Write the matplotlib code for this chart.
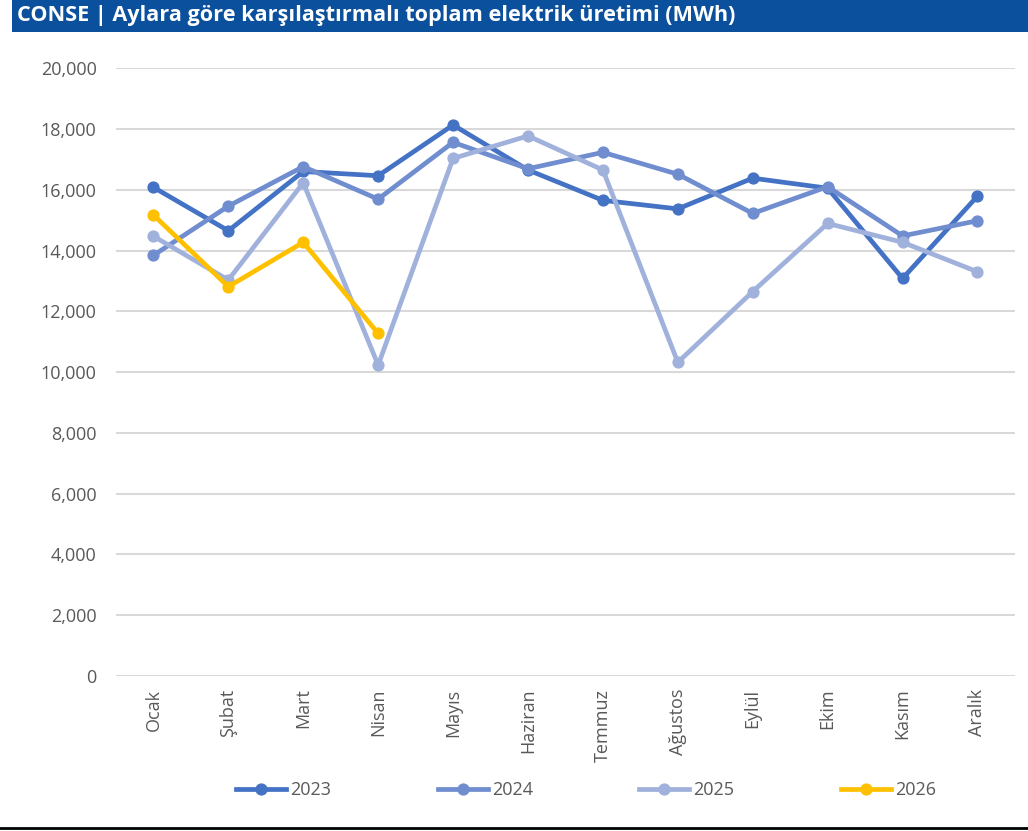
import matplotlib
matplotlib.use("Agg")
import matplotlib.pyplot as plt
from matplotlib.ticker import FuncFormatter
from matplotlib.patches import Rectangle
from matplotlib.lines import Line2D

months = ["Ocak", "Şubat", "Mart", "Nisan", "Mayıs", "Haziran", "Temmuz",
          "Ağustos", "Eylül", "Ekim", "Kasım", "Aralık"]
y2023 = [16080, 14650, 16600, 16460, 18130, 16650, 15650, 15370, 16380, 16050, 13080, 15790]
y2024 = [13840, 15460, 16760, 15690, 17560, 16690, 17230, 16510, 15220, 16100, 14480, 14980]
y2025 = [14470, 13030, 16230, 10230, 17030, 17770, 16650, 10320, 12650, 14890, 14270, 13300]
y2026 = [15170, 12810, 14270, 11270]
series = [("2023", y2023, "#4472C4"), ("2024", y2024, "#6F8DCF"),
          ("2025", y2025, "#A0B1DC"), ("2026", y2026, "#FFC000")]
title = "CONSE | Aylara göre karşılaştırmalı toplam elektrik üretimi (MWh)"

plt.rcParams['font.family'] = ['Open Sans', 'DejaVu Sans']
fig = plt.figure(figsize=(10.28, 8.31), dpi=100)
ax = fig.add_axes([0.1128, 0.1865, 0.8745, 0.7315])

x = list(range(len(months)))
for name, vals, col in series:
    ax.plot(x[:len(vals)], vals, color=col, lw=3.4, marker='o', ms=7.8,
            solid_capstyle='round', label=name)

ax.set_xlim(-0.5, len(months) - 0.5)
ax.set_ylim(0, 20000)
ax.set_yticks(range(0, 20001, 2000))
ax.yaxis.set_major_formatter(FuncFormatter(lambda v, p: f"{int(v):,}"))
ax.set_xticks(x)
ax.set_xticklabels(months, rotation=90)
ax.grid(axis='y', color='#D9D9D9', lw=1.5)
ax.set_axisbelow(True)
for s in ax.spines.values():
    s.set_visible(False)
ax.tick_params(axis='both', length=0, labelsize=13, colors='#595959')
ax.tick_params(axis='x', pad=9)
ax.tick_params(axis='y', pad=14)

handles = [Line2D([0], [0], color=c, lw=3.4, marker='o', ms=7.8) for _, _, c in series]
fig.legend(handles, [n for n, _, _ in series], loc='center',
           bbox_to_anchor=(0.570, 0.049), ncol=4, frameon=False,
           fontsize=13, labelcolor='#595959', handlelength=2.77,
           handletextpad=0.22, columnspacing=5.9)

fig.patches.append(Rectangle((0.0117, 0.9615), 0.9883, 0.0385, transform=fig.transFigure,
                             facecolor='#0B509C', edgecolor='none', zorder=0))
fig.text(0.0165, 0.981, title, color='white', fontsize=15.6, fontweight='bold',
         va='center', ha='left')
fig.add_artist(Line2D([0, 1], [0.0036, 0.0036], transform=fig.transFigure,
                      color='black', lw=2))

fig.savefig("out.png", dpi=100)
